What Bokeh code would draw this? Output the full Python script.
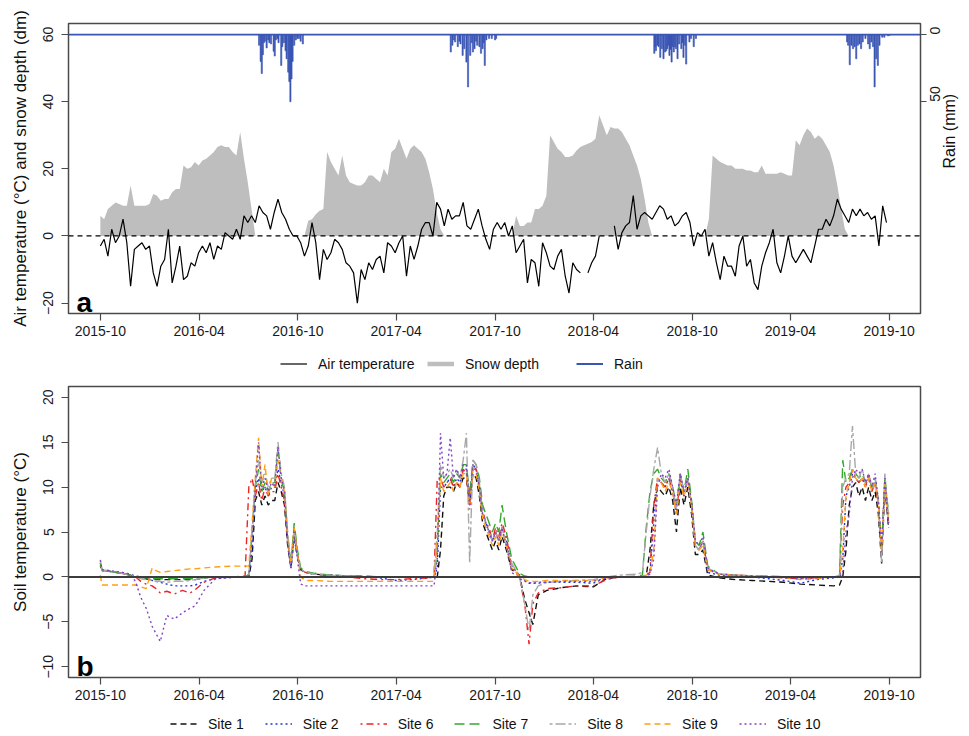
import math
import pandas as pd
from bokeh.plotting import figure
from bokeh.models import (Range1d, LinearAxis, FixedTicker, DatetimeTickFormatter,
                          Span, Label, Legend, LegendItem)
from bokeh.layouts import column
from bokeh.embed import file_html
from bokeh.resources import INLINE

FONT = "Liberation Sans"
nan = float("nan")

# ---------------- data ----------------
air_start = "2015-10-01"   # weekly samples from this date
air_temp = [-3, -1, -6, 2, -2, 0, 5, -2, -15, -4, -3, -2, -4, -3, -11, -15, -9, -7, 2, -14,
            -9, -3, -13, -12, -8, -9, -5, -3, -5, -2, -7, -3, -4, 1, 0, -1, 2, -1, 6, 4,
            6, 4, 9, 7, 6, 2, 7, 11, 7, 5, 2, 0, 0, -2, -6, -3,
            4, -2, -13, -4, -7, -5, -1, -2, -4, -8, -9, -11, -20, -10, -13, -8, -10, -7, -6, -11,
            -2, -3, -5, -2, 0, -12, -3, -7, -3, 2, 4, 4, 0, 10, 8, 3, 8, 5, 6, 6,
            10, 3, 2, 5, 8, 3, -1, -4, 2, 4, 2, 4, 0, 3, -5,
            -3, -1, -14, -7, -8, -15, -2, -5, -9, -10, -6, -4, -12, -17, -8, -10, -11, nan, -11, -8,
            -6, 0, nan, nan, nan, 3, -4, 1, 3, 4, 12, 2, 6, 7, 6, 5, 7, 9, 8, 5,
            6, 3, 4, 6, 7, 4, -3, 1, 0, 2, -6, -2, -8, -13, -6, -9,
            -9, -12, -3, 0, -9, -7, -14, -16, -9, -5, -2, 2, -8, -11, -6, 0, -6, -8, -6, -4,
            -6, -8, -3, 2, 2, 5, 3, 6, 11, 8, 6, 4, 8, 6, 8, 6, 7, 5, 6, -3, 9, 4]

snow_depth = [6, 5, 8, 9, 10, 9.5, 9, 9, 15, 9, 9, 9, 9, 9.5, 12.5, 12, 10.5, 11, 11, 13,
              14, 14, 21, 20, 20.5, 22, 21, 22.5, 23, 24, 25, 26.5, 27, 26.5, 26.5, 25, 24, 31, 23, 16, 8,
              0, 0, 0, 0, 0, 0, 0, 0, 0, 0, 0, 0, 0, 0,
              4.5, 5, 6.5, 7.5, 8, 25, 22, 20, 18, 24, 18, 16, 15.5, 15, 15, 16, 18, 18, 17, 16,
              20, 18, 25, 26, 29, 26, 23, 26, 27, 26, 25, 23, 19, 14, 7, 2,
              0, 0, 0, 0, 0, 0, 0, 0, 0, 0, 0, 0, 0, 0, 0, 0, 0, 0, 0,
              6, 3, 3, 4, 4, 8, 8, 9, 12, 30, 28, 26, 25, 23.5, 23.5, 24, 25.5, 26.5, 27, 27.5,
              28, 29, 36, 33, 30, 32.5, 32, 32, 31, 29, 27, 24, 21, 17, 11, 4,
              0, 0, 0, 0, 0, 0, 0, 0, 0, 0, 0, 0, 0, 0, 0,
              5, 24, 23, 22, 21.5, 21, 21, 20, 20, 20, 19.5, 19.5, 19, 19, 21, 18.5, 18.5, 18.5, 18.5, 19,
              18.5, 18, 18, 28.5, 27, 30, 32, 31, 29, 30, 29, 27, 25, 21, 15, 8, 2,
              0, 0, 0, 0, 0, 0, 0, 0, 0, 0, 0]

rain_dates = ["2016-07-21", "2016-07-24", "2016-07-26", "2016-07-28", "2016-07-30", "2016-08-01",
              "2016-08-04", "2016-08-07", "2016-08-09", "2016-08-12", "2016-08-17", "2016-08-19",
              "2016-08-21", "2016-08-24", "2016-08-26", "2016-08-31", "2016-09-02", "2016-09-05",
              "2016-09-08", "2016-09-10", "2016-09-13", "2016-09-15", "2016-09-17", "2016-09-19",
              "2016-09-21", "2016-09-24", "2016-09-27", "2016-09-30", "2016-10-03", "2016-10-06",
              "2016-10-10",
              "2017-07-11", "2017-07-14", "2017-07-17", "2017-07-19", "2017-07-24", "2017-07-27",
              "2017-07-29", "2017-08-02", "2017-08-05", "2017-08-09", "2017-08-12", "2017-08-16",
              "2017-08-19", "2017-08-21", "2017-08-24", "2017-08-27", "2017-08-29", "2017-09-02",
              "2017-09-05", "2017-09-08", "2017-09-10", "2017-09-12", "2017-09-15", "2017-09-20",
              "2017-09-25", "2017-10-01", "2017-10-03",
              "2018-07-23", "2018-07-25", "2018-07-26", "2018-07-29", "2018-07-31", "2018-08-03",
              "2018-08-06", "2018-08-09", "2018-08-12", "2018-08-14", "2018-08-16", "2018-08-18",
              "2018-08-20", "2018-08-22", "2018-08-24", "2018-08-26", "2018-08-28", "2018-08-30",
              "2018-09-01", "2018-09-04", "2018-09-07", "2018-09-11", "2018-09-13", "2018-09-15",
              "2018-09-18", "2018-09-20", "2018-09-26", "2018-09-29", "2018-10-04", "2018-10-08",
              "2019-07-15", "2019-07-17", "2019-07-20", "2019-07-23", "2019-07-26", "2019-07-29",
              "2019-08-01", "2019-08-04", "2019-08-07", "2019-08-10", "2019-08-13", "2019-08-18",
              "2019-08-23", "2019-08-26", "2019-08-29", "2019-09-01", "2019-09-04", "2019-09-07",
              "2019-09-10", "2019-09-13", "2019-09-18", "2019-09-22", "2019-09-29", "2019-10-02"]
rain_mm = [8, 20, 29, 15, 6, 5, 10, 4, 6, 7, 12.5, 16, 4, 3, 6, 23, 9, 6, 12, 18, 28, 35, 50, 33,
           20, 8, 4, 3, 3, 5, 7,
           13, 8, 4, 5.5, 9, 5, 7, 15.5, 10.5, 20.5, 39, 15.5, 6, 13, 10.5, 5, 8, 9, 14, 10.5, 6,
           23, 4, 3, 3, 4, 3,
           14, 9, 12, 8, 9, 17, 10.5, 18, 13, 12, 10.5, 8, 15.5, 11, 20.5, 9, 13, 9, 10.5, 18, 7,
           10.5, 6, 17, 8, 22, 5.5, 3, 9, 3,
           5.5, 8, 22.5, 8, 10.5, 9, 18, 8, 7, 10.5, 5.5, 3, 7, 10.5, 5.5, 9, 39, 18, 23, 8, 2, 2, 1, 0.5]

soil_dates = ["2015-10-01", "2015-10-04", "2015-10-20", "2015-11-10", "2015-11-25", "2015-12-05",
              "2015-12-15", "2015-12-25", "2016-01-05", "2016-01-12", "2016-01-20", "2016-02-01",
              "2016-02-15", "2016-03-01", "2016-03-15", "2016-03-25", "2016-04-10", "2016-05-01",
              "2016-06-01", "2016-06-25",
              "2016-07-02", "2016-07-08", "2016-07-14", "2016-07-20", "2016-07-26", "2016-08-01",
              "2016-08-07", "2016-08-13", "2016-08-19", "2016-08-25", "2016-08-31", "2016-09-06",
              "2016-09-12", "2016-09-18", "2016-09-24", "2016-09-30", "2016-10-06", "2016-10-15",
              "2016-11-01", "2016-12-01", "2017-01-01", "2017-02-01", "2017-03-01", "2017-04-01",
              "2017-05-01", "2017-06-01", "2017-06-10",
              "2017-06-16", "2017-06-22", "2017-06-28", "2017-07-04", "2017-07-10", "2017-07-16",
              "2017-07-22", "2017-07-28", "2017-08-03", "2017-08-09", "2017-08-15", "2017-08-21",
              "2017-08-27", "2017-09-02", "2017-09-08", "2017-09-14", "2017-09-20", "2017-09-26",
              "2017-10-02", "2017-10-08", "2017-10-14", "2017-10-22", "2017-11-01",
              "2017-11-15", "2017-11-25", "2017-12-03", "2017-12-10", "2017-12-20", "2018-01-05",
              "2018-02-01", "2018-03-01", "2018-04-01", "2018-04-25", "2018-05-20", "2018-06-20",
              "2018-07-01", "2018-07-08", "2018-07-15", "2018-07-22", "2018-07-29", "2018-08-05",
              "2018-08-12", "2018-08-19", "2018-08-26", "2018-09-02", "2018-09-09", "2018-09-16",
              "2018-09-23", "2018-09-30", "2018-10-07", "2018-10-14", "2018-10-21", "2018-10-30",
              "2018-11-20", "2018-12-20", "2019-01-20", "2019-02-20", "2019-03-20", "2019-04-20",
              "2019-05-20", "2019-06-20", "2019-07-01",
              "2019-07-07", "2019-07-13", "2019-07-19", "2019-07-25", "2019-07-31", "2019-08-06",
              "2019-08-12", "2019-08-18", "2019-08-24", "2019-08-30", "2019-09-05", "2019-09-11",
              "2019-09-17", "2019-09-23", "2019-09-30"]

site_1 = [1.5, 0.8, 0.6, 0.4, 0.2, 0.0, -0.1, -0.2, -0.3, -0.3, -0.3, -0.3, -0.3, -0.3, -0.3, -0.3, -0.1, 0.0, 0.0, 0.0,
          0.0, 2, 8.5, 9.5, 8, 9, 8, 8.5, 8.5, 10.5, 9.5, 8, 3.5, 1.0, 4.5, 2.2, 0.8, 0.5,
          0.3, 0.2, 0.1, 0.05, 0.0, 0.0, 0.0, 0.0, 0.0,
          0.0, 3, 9, 10, 10, 9.5, 10.5, 10, 11, 11, 8, 11.5, 11, 9, 6, 5, 4, 3, 4, 3, 4.5, 3, 0.8,
          0.2, -2.5, -4.0, -5.3, -2.0, -1.5, -1.2, -1.0, -1.1, -0.2, 0.0, 0.0,
          0.0, 0.1, 3, 8, 10, 9.5, 9, 10, 8.5, 5, 10, 8, 10, 7, 2.5, 2.5, 3, 0.2,
          -0.1, -0.3, -0.4, -0.5, -0.6, -0.8, -0.9, -1.0, -0.9,
          0.0, 3, 8, 10, 10.5, 9, 10, 8.5, 10, 8.5, 9.5, 7, 1.5, 10, 5.5]
site_2 = [1.2, 0.7, 0.6, 0.5, 0.3, 0.1, 0.0, -0.2, -0.4, -0.5, -0.6, -0.8, -1.0, -1.0, -1.0, -0.9, -0.5, -0.2, -0.05, 0.0,
          0.0, 3, 9.5, 11, 9.5, 10, 9, 10, 10, 12, 10.5, 9, 4, 1.2, 5, 2.5, 0.8, 0.5,
          0.3, 0.2, 0.1, 0.0, -0.1, -0.4, -0.3, -0.1, 0.0,
          1, 10, 10, 10.5, 11, 10, 11, 10.5, 12, 12, 8.5, 12.5, 12, 10, 7, 6, 5, 4, 5, 4, 5.5, 4, 1.2,
          0.2, -0.4, -0.7, -0.7, -0.7, -0.6, -0.6, -0.6, -0.7, -0.1, 0.0, 0.0,
          0.1, 0.2, 0.5, 6, 11, 10.5, 10, 11, 9.5, 7, 11, 9, 11, 8, 3.5, 3, 4, 0.5,
          0.2, 0.1, 0.0, -0.2, -0.4, -0.7, -0.3, -0.1, 0.0,
          2, 9, 10, 11.5, 11, 10.5, 11, 10, 11, 9.5, 10.5, 8, 2.5, 10.5, 6]
site_6 = [1.3, 0.7, 0.6, 0.4, 0.2, 0.0, -0.5, -0.8, -1.0, -1.3, -1.8, -1.6, -1.9, -1.5, -1.8, -1.4, -0.6, -0.1, 0.0, 0.1,
          10, 11, 9, 10.5, 8.5, 10, 9, 9.5, 9.5, 11.5, 10, 8.5, 4, 1.5, 5.5, 2.5, 0.8, 0.5,
          0.3, 0.1, 0.0, -0.2, -0.3, -0.3, -0.2, -0.1, 0.0,
          11, 11, 10, 10.5, 11, 10, 10.5, 10, 12, 11.5, 7.5, 12, 12, 10, 7.5, 6, 5.5, 4, 5.5, 4.5, 6, 4.5, 1.0,
          0.0, -3.0, -7.5, -3.0, -1.8, -1.3, -1.2, -1.0, -1.0, -0.3, 0.0, 0.0,
          0.1, 0.2, 0.5, 8, 11, 10.5, 10, 11, 9.5, 7, 11, 9, 11, 8, 3.5, 3, 4, 0.8,
          0.3, 0.2, 0.1, 0.0, -0.1, -0.2, -0.1, 0.0, 0.0,
          8, 10, 10.5, 12, 11, 10.5, 11, 10, 11.5, 9.5, 10.5, 8, 2.5, 11, 6]
site_7 = [1.6, 0.7, 0.6, 0.4, 0.2, 0.0, -0.1, -0.1, -0.2, -0.2, -0.2, -0.2, -0.2, -0.2, -0.2, -0.2, -0.1, 0.0, 0.0, 0.0,
          0.3, 5, 10, 12, 9.5, 10.5, 9.5, 10.5, 10.5, 14, 11, 9.5, 4.5, 1.5, 6, 3, 1.0, 0.6,
          0.4, 0.2, 0.1, 0.1, 0.0, 0.0, 0.0, 0.0, 0.0,
          3, 11.5, 10.5, 11, 11.5, 10.5, 11.5, 11, 12.5, 12.5, 9, 13, 12.5, 11, 8, 7, 6, 5, 6, 5, 8, 5, 2,
          0.4, 0.1, 0.0, 0.0, 0.0, 0.0, 0.0, 0.0, 0.0, 0.0, 0.0, 0.1,
          0.2, 5.5, 9.5, 11.5, 12, 11, 10.5, 11.5, 10, 8, 11.5, 9.5, 12, 8.5, 4, 3.5, 5, 1.2,
          0.3, 0.2, 0.1, 0.1, 0.0, 0.0, 0.0, 0.0, 0.1,
          13, 10.5, 11, 12, 11.5, 11, 11.5, 10.5, 11, 10, 11, 8.5, 3, 11, 7]
site_8 = [1.8, 0.8, 0.6, 0.4, 0.2, 0.0, -0.2, -0.3, -0.4, -0.5, -0.5, -0.6, -0.5, -0.5, -0.4, -0.3, -0.1, 0.0, 0.0, 0.0,
          0.3, 5, 10.5, 13, 10.5, 11.5, 10, 11, 11, 15, 11.5, 10, 5, 1.0, 5, 2.5, 0.9, 0.5,
          0.3, 0.2, 0.1, 0.0, 0.0, 0.0, 0.0, 0.0, 0.1,
          5, 12.5, 11, 11.5, 12, 11, 12, 11, 13, 16, 1.5, 13, 12.5, 10.5, 7, 6, 5, 4, 5, 4, 5.5, 3.5, 1.5,
          0.1, -3.0, -6.0, -2.0, -1.0, -0.6, -0.5, -0.4, -0.3, 0.0, 0.2, 0.3,
          0.5, 5, 9, 12, 14.4, 11.5, 10.5, 11.5, 10, 7.5, 11.5, 9.5, 11, 8, 3.5, 3, 4, 1.0,
          0.3, 0.2, 0.1, 0.1, 0.0, -0.1, 0.0, 0.0, 0.1,
          10, 11, 11.5, 16.8, 11.5, 11, 12, 10.5, 11.5, 10, 11, 8.5, 1.5, 11.5, 6.5]
site_9 = [0.2, -0.9, -0.9, -0.9, -0.9, -0.9, -1.1, -1.3, 1.0, 0.7, 0.5, 0.6, 0.7, 0.8, 0.9, 0.9, 1.0, 1.1, 1.2, 1.2,
          1.2, 6, 11, 15.5, 10, 12.5, 9, 11, 10, 13, 11, 9.5, 4, 1.5, 5.5, 2.5, 0.0, -0.4,
          -0.4, -0.5, -0.5, -0.5, -0.5, -0.5, -0.5, -0.5, -0.5,
          4, 11, 9.5, 10, 10.5, 9.5, 10.5, 10, 11.5, 11.5, 8, 12, 11.5, 9.5, 6.5, 5.5, 4.5, 3.5, 4.5, 3.5, 5, 3.5, 1.0,
          0.1, -0.3, -0.5, -0.5, -0.5, -0.4, -0.4, -0.4, -0.4, -0.1, 0.0, 0.0,
          0.1, 0.2, 0.4, 3, 11, 10.5, 9.5, 10.5, 9.5, 7, 10.5, 9, 10.5, 8, 3.5, 3, 3.5, 0.8,
          0.3, 0.2, 0.1, 0.0, -0.1, -0.3, -0.2, 0.0, 0.0,
          3, 9, 10.5, 12, 11, 10.5, 11, 10, 11, 9.5, 10.5, 8, 3, 10.5, 6]
site_10 = [1.9, 0.8, 0.7, 0.5, 0.3, -0.5, -2.3, -3.5, -5.5, -6.3, -7.2, -4.3, -4.7, -4.0, -3.5, -3.2, -1.5, -0.2, -0.05, 0.0,
           0.0, 4, 10, 15, 10, 11, 9.5, 10.5, 10, 14.5, 11, 9.5, 3.5, 0.8, 4.5, 2, -0.8, -1.0,
           -1.0, -1.0, -1.0, -1.0, -1.0, -1.0, -1.0, -1.0, -1.0,
           2, 16, 11, 11.5, 15.5, 11, 12, 11, 12.5, 12.5, 8, 12.5, 12, 10, 7, 6, 5, 4, 5, 4, 5.5, 3.5, 0.5,
           -0.2, -0.5, -0.6, -0.7, -0.6, -0.6, -0.5, -0.5, -0.5, -0.1, 0.0, 0.0,
           0.0, 0.1, 0.3, 2, 10, 11.5, 11, 12, 10, 8, 11.5, 9.5, 11, 8.5, 4, 3.5, 4.5, 1.0,
           0.3, 0.2, 0.1, 0.0, -0.1, -0.2, -0.1, 0.0, 0.0,
           0.5, 5, 7, 11, 12, 11.5, 12, 10.5, 11.5, 10, 11.5, 8.5, 3.5, 11, 5.5]

site_names = ["Site 1", "Site 2", "Site 6", "Site 7", "Site 8", "Site 9", "Site 10"]
site_series = [site_1, site_2, site_6, site_7, site_8, site_9, site_10]
site_colors = ["#111111", "#2236d6", "#ec2424", "#36a82e", "#a8a8a8", "#ff9f12", "#8044c4"]
site_dashes = ["6 4", "2 3", "2 4 7 4", "10 5", "3 3 10 3", "6 4", "2 3"]

x_tick_labels = ["2015-10", "2016-04", "2016-10", "2017-04", "2017-10",
                 "2018-04", "2018-10", "2019-04", "2019-10"]
top_y_ticks = [-20, 0, 20, 40, 60]
rain_ticks = [0, 50]
soil_y_ticks = [-10, -5, 0, 5, 10, 15, 20]

# ---------------- helpers ----------------
week_dates = pd.date_range(air_start, periods=len(air_temp), freq="7D")
rain_x = pd.to_datetime(rain_dates)
soil_x = pd.to_datetime(soil_dates)
x_ticks_ms = [pd.Timestamp(t + "-01").value // 10**6 for t in x_tick_labels]

RAIN_BLUE = "#3a55b4"
SNOW_GREY = "#bebebe"
FRAME = "#4a4a4a"
W = 969

x_range = Range1d(start=pd.Timestamp("2015-08-03"), end=pd.Timestamp("2019-11-28"))


def style_axis(ax, label_rot=False):
    ax.major_tick_out = 7
    ax.major_tick_in = 0
    ax.minor_tick_out = 0
    ax.minor_tick_in = 0
    ax.axis_line_color = None
    ax.major_tick_line_color = FRAME
    ax.major_tick_line_width = 1.2
    ax.major_label_text_font = FONT
    ax.major_label_text_font_size = "14px"
    ax.major_label_text_color = "#1a1a1a"
    ax.major_label_standoff = 8
    ax.axis_label_text_font = FONT
    ax.axis_label_text_font_size = "17px"
    ax.axis_label_text_font_style = "normal"
    ax.axis_label_text_color = "#111111"
    if label_rot:
        ax.major_label_orientation = "vertical"


def style_x(p):
    xa = p.xaxis[0]
    xa.ticker = FixedTicker(ticks=x_ticks_ms)
    xa.formatter = DatetimeTickFormatter(days="%Y-%m", months="%Y-%m", years="%Y-%m")
    style_axis(xa)
    xa.major_label_standoff = 5


def base_fig(height, y_range, top_border, bottom_border):
    p = figure(width=W, height=height, x_axis_type="datetime", x_range=x_range,
               y_range=y_range, output_backend="svg", toolbar_location=None,
               min_border_left=68, min_border_right=W - 921,
               min_border_top=top_border, min_border_bottom=bottom_border)
    p.xgrid.visible = False
    p.ygrid.visible = False
    p.outline_line_color = FRAME
    p.outline_line_width = 1.5
    p.background_fill_color = "white"
    p.border_fill_color = "white"
    return p


def legend_fig(height):
    f = figure(width=W, height=height, x_range=Range1d(0, 1), y_range=Range1d(0, 1),
               output_backend="svg", toolbar_location=None, min_border=0,
               x_axis_location=None, y_axis_location=None)
    f.xgrid.visible = False
    f.ygrid.visible = False
    f.outline_line_color = None
    f.background_fill_color = "white"
    f.border_fill_color = "white"
    return f


def make_legend(items, loc, spacing=20):
    return Legend(items=items, orientation="horizontal", location=loc,
                  border_line_color=None, background_fill_alpha=0,
                  label_text_font=FONT, label_text_font_size="14px",
                  label_text_color="#111111",
                  glyph_width=27, glyph_height=17, label_height=17, label_standoff=11,
                  spacing=spacing, margin=0, padding=2)


# legend sample renderers sit outside the legend strip's visible range
OFF_X = [5, 6]
OFF_Y = [5, 6]

# ---------------- panel a ----------------
p1 = base_fig(345, Range1d(-23.1, 63.3), 23, 32)
p1.extra_y_ranges = {"rain": Range1d(start=207.75, end=-8.25)}

p1.varea(x=week_dates, y1=0, y2=snow_depth, fill_color=SNOW_GREY)
p1.add_layout(Span(location=0, dimension="width", line_color="black",
                   line_dash="5 4", line_width=1.3))
p1.line(week_dates, air_temp, line_color="black", line_width=1.2)
p1.vbar(x=rain_x, top=rain_mm, bottom=0, width=2.2 * 86400000, y_range_name="rain",
        fill_color=RAIN_BLUE, line_color=RAIN_BLUE, line_width=0.6)
p1.add_layout(Span(location=60, dimension="width", line_color=RAIN_BLUE, line_width=1.6))

style_x(p1)
ya = p1.yaxis[0]
ya.ticker = FixedTicker(ticks=top_y_ticks)
ya.axis_label = "Air temperature (°C) and snow depth (dm)"
style_axis(ya, label_rot=True)
ya.axis_label_standoff = 11

ra = LinearAxis(y_range_name="rain", ticker=FixedTicker(ticks=rain_ticks), axis_label="Rain (mm)")
style_axis(ra)
ra.major_label_orientation = math.pi / 2
ra.major_tick_out = 6
ra.major_label_standoff = 9
ra.axis_label_standoff = 1
ra.axis_label_text_font_size = "16px"
try:
    ra.axis_label_orientation = math.pi / 2
except Exception:
    pass
p1.add_layout(ra, "right")

p1.add_layout(Label(x=8, y=11, x_units="screen", y_units="screen", text="a",
                    text_font=FONT, text_font_style="bold", text_font_size="28px",
                    text_color="black", text_baseline="alphabetic"))

# legend strip for panel a (frame of the strip is aligned with the plot frame, x=68)
lf1 = legend_fig(36)
la = lf1.line(x=OFF_X, y=OFF_Y, line_color="black", line_width=1.2)
lb = lf1.line(x=OFF_X, y=OFF_Y, line_color=SNOW_GREY, line_width=4.5)
lc = lf1.line(x=OFF_X, y=OFF_Y, line_color=RAIN_BLUE, line_width=2)
lf1.add_layout(make_legend([LegendItem(label="Air temperature", renderers=[la])], (212, 9)))
lf1.add_layout(make_legend([LegendItem(label="Snow depth", renderers=[lb])], (359, 9)))
lf1.add_layout(make_legend([LegendItem(label="Rain", renderers=[lc])], (508, 9)))

# ---------------- panel b ----------------
p2 = base_fig(328, Range1d(-11.2, 21.2), 5, 32)
p2.add_layout(Span(location=0, dimension="width", line_color="#3c3c3c", line_width=2))
for name, vals, col, dash in zip(site_names, site_series, site_colors, site_dashes):
    p2.line(soil_x, vals, line_color=col, line_dash=dash, line_width=1.4)

style_x(p2)
yb = p2.yaxis[0]
yb.ticker = FixedTicker(ticks=soil_y_ticks)
yb.axis_label = "Soil temperature (°C)"
style_axis(yb, label_rot=True)
yb.axis_label_standoff = 11

p2.add_layout(Label(x=8, y=11, x_units="screen", y_units="screen", text="b",
                    text_font=FONT, text_font_style="bold", text_font_size="28px",
                    text_color="black", text_baseline="alphabetic"))

# legend strip for panel b
lf2 = legend_fig(27)
soil_items = []
for name, col, dash in zip(site_names, site_colors, site_dashes):
    r = lf2.line(x=OFF_X, y=OFF_Y, line_color=col, line_dash=dash, line_width=1.4)
    soil_items.append(LegendItem(label=name, renderers=[r]))
lf2.add_layout(make_legend(soil_items, (102, 4), 21))

layout = column(p1, lf1, p2, lf2, spacing=0)
open("out.html", "w").write(file_html(layout, INLINE))
